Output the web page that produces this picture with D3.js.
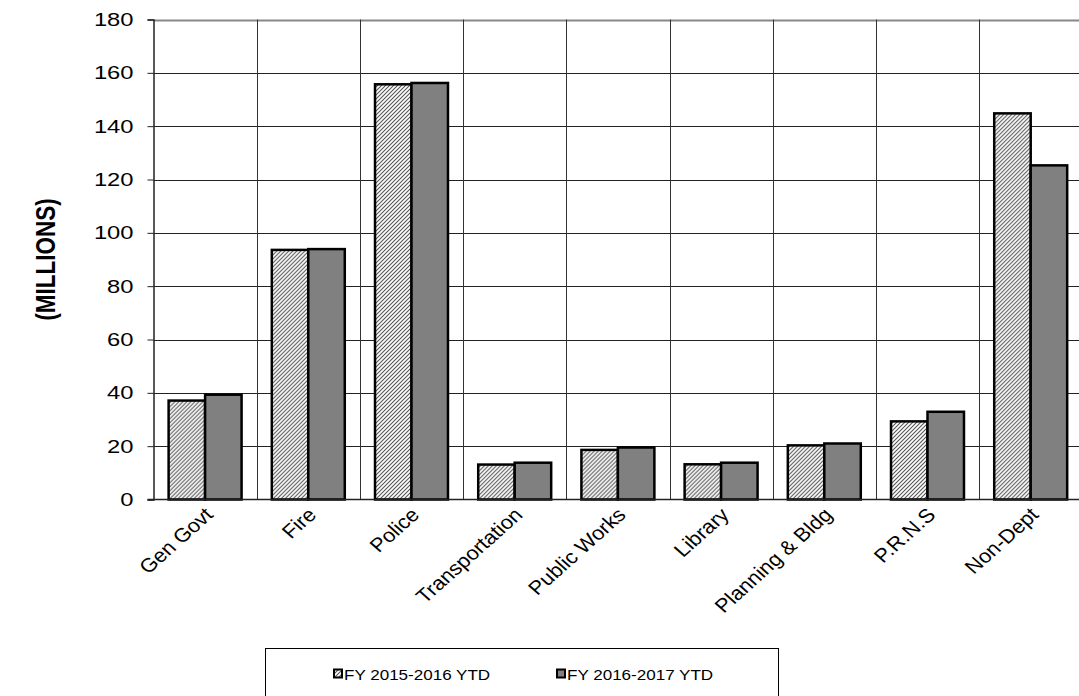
<!DOCTYPE html>
<html>
<head>
<meta charset="utf-8">
<script src="https://cdn.jsdelivr.net/npm/d3@7"></script>
<style>
  html, body { margin: 0; padding: 0; background: #fff; overflow: hidden; }
  svg { display: block; font-family: "Liberation Sans", Arial, sans-serif; }
</style>
</head>
<body>
<svg id="chart" width="1079" height="696"></svg>
<script>
const categories = ["Gen Govt", "Fire", "Police", "Transportation", "Public Works", "Library", "Planning & Bldg", "P.R.N.S", "Non-Dept"];
const seriesNames = ["FY 2015-2016 YTD", "FY 2016-2017 YTD"];
const fy2016 = [37.1, 93.6, 155.7, 13.1, 18.6, 13.2, 20.3, 29.3, 144.8];
const fy2017 = [39.3, 93.9, 156.2, 13.8, 19.5, 13.8, 21.0, 32.9, 125.3];
const yTicks = [0, 20, 40, 60, 80, 100, 120, 140, 160, 180];
const yLabel = "(MILLIONS)";

(function () {
const svg = d3.select("#chart");
const SX = 1.25; // horizontal text stretch seen in the reference
const defs = svg.append("defs");
const pat = defs.append("pattern")
  .attr("id", "hatch").attr("patternUnits", "userSpaceOnUse")
  .attr("width", 4).attr("height", 4);
pat.append("rect").attr("width", 4).attr("height", 4).attr("fill", "#fff");
pat.append("path").attr("d", "M-1,1 l2,-2 M0,4 l4,-4 M3,5 l2,-2")
  .attr("stroke", "#555").attr("stroke-width", 1.1);

const mLeft = 153.5, mRight = 1082.3, mTop = 19.5, mBottom = 499.5;
const x = d3.scaleBand().domain(categories).range([mLeft, mRight]).paddingInner(0.293).paddingOuter(0.1465);
const xs = d3.scaleBand().domain(seriesNames).range([0, x.bandwidth()]);
const y = d3.scaleLinear().domain([0, 180]).range([mBottom, mTop]);
const step = x.step();

// horizontal grid
svg.append("g").selectAll("line").data(yTicks.filter(t => t > 0)).join("line")
  .attr("x1", mLeft).attr("x2", mRight)
  .attr("y1", d => Math.round(y(d)) + 0.5).attr("y2", d => Math.round(y(d)) + 0.5)
  .attr("stroke", d => d === 180 ? "#888" : "#222").attr("stroke-width", d => d === 180 ? 2 : 1);

// vertical grid at category boundaries
const bounds = categories.map(c => x(c) - x.paddingOuter() * step).slice(1);
svg.append("g").selectAll("line").data(bounds).join("line")
  .attr("x1", d => Math.round(d) + 0.5).attr("x2", d => Math.round(d) + 0.5)
  .attr("y1", mTop).attr("y2", mBottom)
  .attr("stroke", "#333").attr("stroke-width", 1);

// y axis
const yAxis = svg.append("g").attr("transform", `translate(${mLeft},0)`)
  .call(d3.axisLeft(y).tickValues(yTicks).tickSize(6).tickPadding(0));
yAxis.select(".domain").attr("stroke", "#222").attr("stroke-width", 1.5);
yAxis.selectAll(".tick line").attr("stroke", "#222");
yAxis.selectAll(".tick text")
  .attr("x", null)
  .attr("transform", `translate(-20,0) scale(${SX},1)`)
  .attr("font-size", 19).attr("fill", "#000")
  .attr("font-family", "Liberation Sans, Arial, sans-serif");

// bars
const data = categories.map((c, i) => ({ c, vals: [fy2016[i], fy2017[i]] }));
const groups = svg.append("g").selectAll("g").data(data).join("g")
  .attr("transform", d => `translate(${x(d.c)},0)`);
groups.selectAll("rect").data(d => d.vals.map((v, j) => ({ v, s: seriesNames[j], j }))).join("rect")
  .attr("x", d => xs(d.s))
  .attr("width", xs.bandwidth())
  .attr("y", d => y(d.v))
  .attr("height", d => y(0) - y(d.v))
  .attr("fill", d => d.j === 0 ? "url(#hatch)" : "#808080")
  .attr("stroke", "#000").attr("stroke-width", 2.5);

// x axis baseline
svg.append("line").attr("x1", mLeft - 6).attr("x2", mRight)
  .attr("y1", mBottom).attr("y2", mBottom).attr("stroke", "#222").attr("stroke-width", 1.5);

// x labels
svg.append("g").selectAll("text").data(categories).join("text")
  .attr("transform", c => `translate(${x(c) + x.bandwidth() / 2 + 3},${mBottom + 11}) scale(1.12,1) rotate(-45)`)
  .attr("text-anchor", "end").attr("dy", "0.4em")
  .attr("font-size", 19.5).attr("fill", "#000")
  .text(c => c);

// y label
svg.append("text")
  .attr("transform", `translate(45,${(mTop + mBottom) / 2}) scale(${SX},1) rotate(-90)`)
  .attr("text-anchor", "middle").attr("dy", "0.35em").attr("font-size", 22.5).attr("font-weight", "bold")
  .text(yLabel);

// legend
const lg = svg.append("g");
lg.append("rect").attr("x", 265.5).attr("y", 648.5).attr("width", 513).attr("height", 60)
  .attr("fill", "#fff").attr("stroke", "#000").attr("stroke-width", 1);
const legX = [334, 557];
seriesNames.forEach((s, i) => {
  lg.append("rect").attr("x", legX[i]).attr("y", 669.5).attr("width", 8).attr("height", 8)
    .attr("fill", i === 0 ? "url(#hatch)" : "#808080").attr("stroke", "#000").attr("stroke-width", 2);
  lg.append("text").attr("transform", `translate(${legX[i] + 10},680) scale(1.1,1)`)
    .attr("font-size", 15.5).text(s);
});
})();
</script>
</body>
</html>
